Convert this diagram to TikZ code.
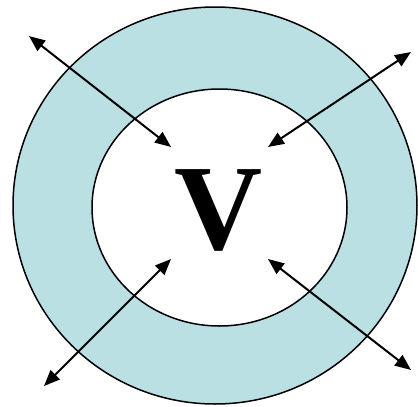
\documentclass[tikz,border=0pt]{standalone}
\usepackage{fontspec}
\setmainfont{Liberation Serif}
\usetikzlibrary{arrows.meta}
\definecolor{ringblue}{RGB}{187,224,228}

\begin{document}
\begin{tikzpicture}[
  x=1pt,
  y=-1pt,
  >={Triangle[length=16pt,width=13pt]},
  line cap=round,
  line join=round,
  flux/.style={<->,line width=2pt}
]
  \useasboundingbox (0,0) rectangle (418,407);

  % ring
  \draw[fill=ringblue,line width=1.5pt] (215,205.5) ellipse [x radius=202,y radius=198.5];
  \draw[fill=white,line width=1.5pt] (219.5,207.5) ellipse [x radius=127.5,y radius=118.5];

  % arrow end points
  \coordinate (inNW) at (171,147);
  \coordinate (inNE) at (268,147);
  \coordinate (inSW) at (171,259);
  \coordinate (inSE) at (268,259);
  \coordinate (outNW) at (29,36);
  \coordinate (outNE) at (411,52);
  \coordinate (outSW) at (44,386);
  \coordinate (outSE) at (411,370);

  \foreach \c in {NW,NE,SW,SE} {
    \draw[flux] (in\c) -- (out\c);
  }

  \node[anchor=base,inner sep=0pt,font=\fontsize{122}{122}\selectfont\bfseries] (vol) at (219,249) {V};
\end{tikzpicture}
\end{document}
